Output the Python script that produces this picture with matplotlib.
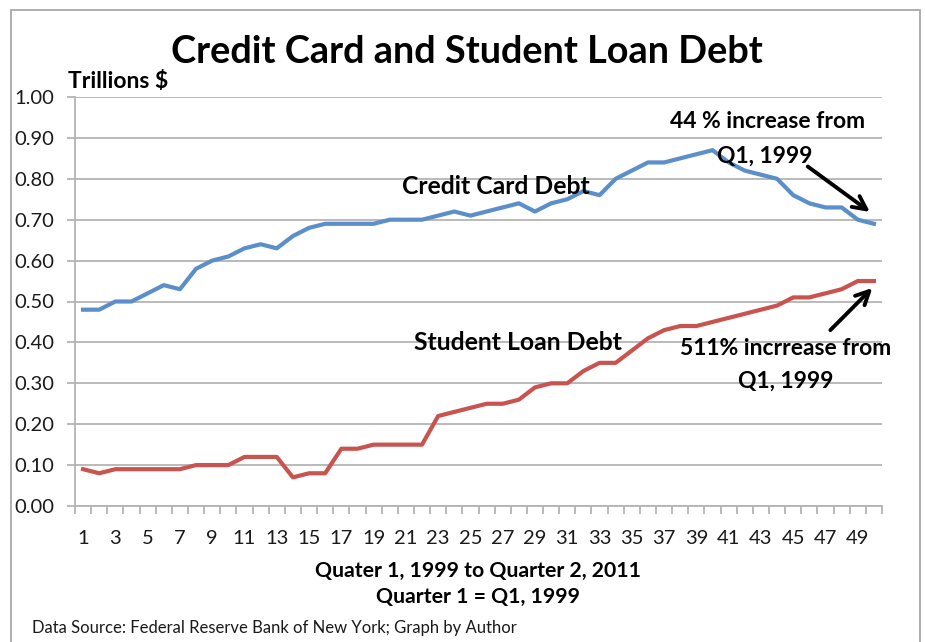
import matplotlib
matplotlib.use("Agg")
import matplotlib.pyplot as plt
import numpy as np
from matplotlib.patches import Rectangle

plt.rcParams['font.family'] = ['Lato', 'DejaVu Sans']

quarters = list(range(1, 51))
credit_card = [0.48, 0.48, 0.50, 0.50, 0.52, 0.54, 0.53, 0.58, 0.60, 0.61,
               0.63, 0.64, 0.63, 0.66, 0.68, 0.69, 0.69, 0.69, 0.69, 0.70,
               0.70, 0.70, 0.71, 0.72, 0.71, 0.72, 0.73, 0.74, 0.72, 0.74,
               0.75, 0.77, 0.76, 0.80, 0.82, 0.84, 0.84, 0.85, 0.86, 0.87,
               0.84, 0.82, 0.81, 0.80, 0.76, 0.74, 0.73, 0.73, 0.70, 0.69]
student_loan = [0.09, 0.08, 0.09, 0.09, 0.09, 0.09, 0.09, 0.10, 0.10, 0.10,
                0.12, 0.12, 0.12, 0.07, 0.08, 0.08, 0.14, 0.14, 0.15, 0.15,
                0.15, 0.15, 0.22, 0.23, 0.24, 0.25, 0.25, 0.26, 0.29, 0.30,
                0.30, 0.33, 0.35, 0.35, 0.38, 0.41, 0.43, 0.44, 0.44, 0.45,
                0.46, 0.47, 0.48, 0.49, 0.51, 0.51, 0.52, 0.53, 0.55, 0.55]
y_ticks = [0.0, 0.1, 0.2, 0.3, 0.4, 0.5, 0.6, 0.7, 0.8, 0.9, 1.0]
x_labels = [str(q) for q in quarters if q % 2 == 1]

blue = '#5b8fc9'
red = '#c9534f'
grid_c = '#b4b4b4'
text_c = '#1a1a1a'

fig = plt.figure(figsize=(9.25, 6.42), dpi=100)
ax = fig.add_axes([75 / 925, 1 - 506 / 642, (882 - 75) / 925, (506 - 97) / 642])

ax.plot(quarters, credit_card, color=blue, lw=3, solid_joinstyle='round', zorder=3)
ax.plot(quarters, student_loan, color=red, lw=3, solid_joinstyle='round', zorder=3)

ax.set_xlim(0.5, 50.5)
ax.set_ylim(0, 1.0)
ax.set_yticks(y_ticks)
ax.set_yticklabels([f"{v:.2f}" for v in y_ticks], fontsize=14.5, color=text_c)
ax.yaxis.grid(True, color=grid_c, lw=1.3)
ax.set_axisbelow(True)

# boundary ticks between quarters, labels on odd quarters
ax.set_xticks(np.arange(0.5, 51, 1))
ax.set_xticklabels([])
ax.set_xticks([q for q in quarters if q % 2 == 1], minor=True)
ax.set_xticklabels(x_labels, minor=True, fontsize=14.5, color=text_c)
ax.tick_params(axis='x', which='major', length=6, color=grid_c, width=1.3)
ax.tick_params(axis='x', which='minor', length=0, pad=17)
ax.tick_params(axis='y', length=6, color=grid_c, width=1.3, pad=9)

for side in ['top', 'right']:
    ax.spines[side].set_visible(False)
for side in ['left', 'bottom']:
    ax.spines[side].set_color(grid_c)
    ax.spines[side].set_linewidth(1.3)

# series labels
ax.text(26.6, 0.782, 'Credit Card Debt', ha='center', va='center',
        fontsize=17.8, fontweight='bold', color='black')
ax.text(27.95, 0.399, 'Student Loan Debt', ha='center', va='center',
        fontsize=17.8, fontweight='bold', color='black')

# percent-change callouts
ax.text(43.4, 0.939, '44 % increase from', ha='center', va='center',
        fontsize=16.5, fontweight='bold', color='black', clip_on=False)
ax.text(43.25, 0.855, 'Q1, 1999', ha='center', va='center',
        fontsize=16.5, fontweight='bold', color='black', clip_on=False)
ax.annotate('', xy=(49.75, 0.719), xytext=(45.9, 0.830),
            arrowprops=dict(arrowstyle='->', color='black', lw=2.8,
                            mutation_scale=24, shrinkA=0, shrinkB=0),
            annotation_clip=False)

ax.text(44.55, 0.386, '511% incrrease from', ha='center', va='center',
        fontsize=16.5, fontweight='bold', color='black', clip_on=False)
ax.text(44.55, 0.305, 'Q1, 1999', ha='center', va='center',
        fontsize=16.5, fontweight='bold', color='black', clip_on=False)
ax.annotate('', xy=(49.9, 0.533), xytext=(47.3, 0.43),
            arrowprops=dict(arrowstyle='->', color='black', lw=2.8,
                            mutation_scale=24, shrinkA=0, shrinkB=0),
            annotation_clip=False)

# titles and notes
fig.text(467 / 925, 1 - 52 / 642, 'Credit Card and Student Loan Debt',
         ha='center', va='center', fontsize=27.3, fontweight='bold', color='black')
fig.text(68 / 925, 1 - 82 / 642, 'Trillions $', ha='left', va='center',
         fontsize=16.5, fontweight='bold', color='black')
fig.text(478 / 925, 1 - 571 / 642, 'Quater 1, 1999 to Quarter 2, 2011',
         ha='center', va='center', fontsize=15.3, fontweight='bold', color='black')
fig.text(478 / 925, 1 - 597 / 642, 'Quarter 1 = Q1, 1999',
         ha='center', va='center', fontsize=15.3, fontweight='bold', color='black')
fig.text(32 / 925, 1 - 628 / 642,
         'Data Source: Federal Reserve Bank of New York; Graph by Author',
         ha='left', va='center', fontsize=12, color=text_c)

# chart frame
fig.patches.append(Rectangle((11 / 925, -0.05), (920 - 11) / 925, 1.05 - 10 / 642,
                             transform=fig.transFigure, fill=False,
                             edgecolor='#a8a8a8', lw=1.3))

fig.savefig('out.png', dpi=100, facecolor='white')
